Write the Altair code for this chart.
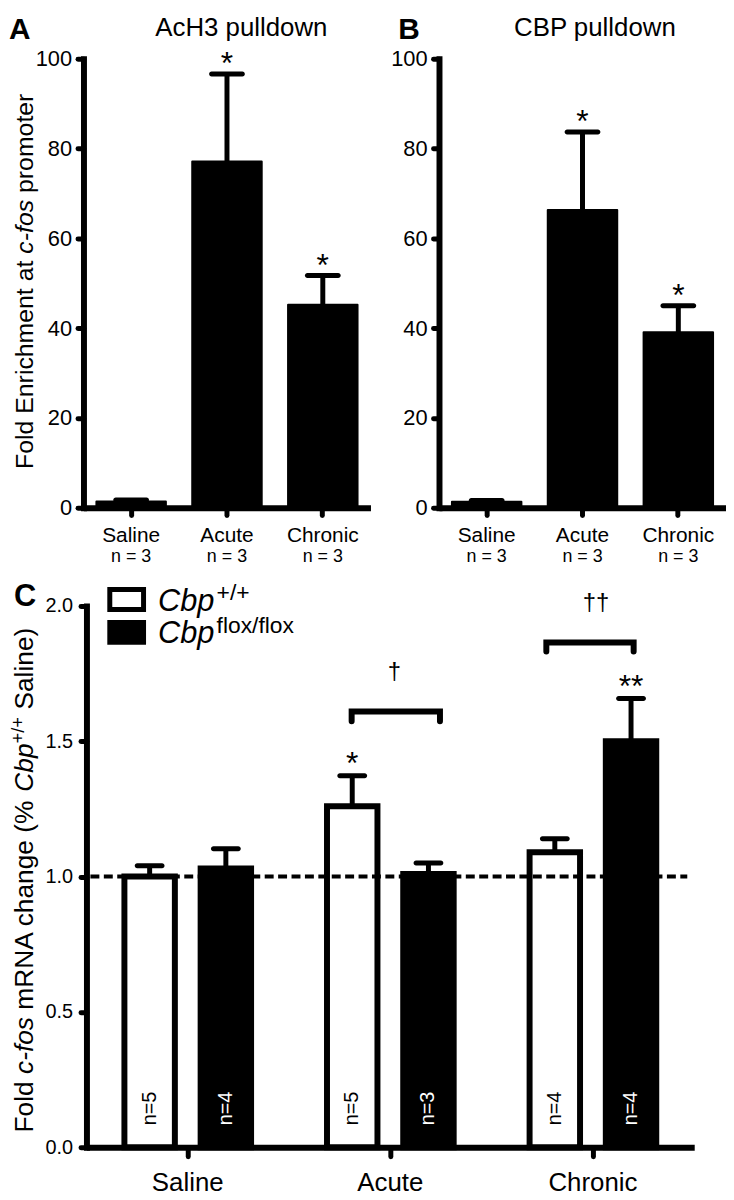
import altair as alt
import pandas as pd

FONT = "Liberation Sans"

# ---------------- data ----------------
groups = ["Saline", "Acute", "Chronic"]

# Panel A - AcH3 pulldown (fold enrichment at c-fos promoter)
a_mean = [1.4, 77.1, 45.2]
a_sem = [0.3, 19.5, 6.5]
a_n = [3, 3, 3]
a_sig = ["", "*", "*"]

# Panel B - CBP pulldown
b_mean = [1.3, 66.3, 39.1]
b_sem = [0.3, 17.4, 5.9]
b_n = [3, 3, 3]
b_sig = ["", "*", "*"]

# Panel C - c-fos mRNA
genotypes = ["Cbp+/+", "Cbpflox/flox"]
wt_mean = [1.00, 1.26, 1.09]
wt_sem = [0.04, 0.113, 0.05]
wt_n = [5, 5, 4]
wt_sig = ["", "*", ""]
flox_mean = [1.03, 1.01, 1.50]
flox_sem = [0.073, 0.04, 0.158]
flox_n = [4, 3, 4]
flox_sig = ["", "", "**"]

# significance brackets (x in group units, 0..3 across the axis)
bracket_from = [1.309, 2.270]
bracket_to = [1.745, 2.701]
bracket_y = [1.610, 1.865]
bracket_leg = [0.036, 0.033]
bracket_mark = ["\u2020", "\u2020\u2020"]
bracket_mark_x = [1.520, 2.515]

# ---------------- helpers ----------------
ARIAL = {' ': 278, '(': 333, ')': 333, '%': 889, '+': 584, '/': 278, '-': 333,
         'F': 611, 'o': 556, 'l': 222, 'd': 556, 'c': 500, 'f': 278, 's': 500,
         'm': 833, 'R': 722, 'N': 722, 'A': 667, 'h': 556, 'a': 556, 'n': 556,
         'g': 556, 'e': 556, 'C': 722, 'b': 556, 'p': 556, 'S': 667, 'i': 222,
         'E': 667, 'r': 333, 't': 278, 'x': 500}


def tw(s, size):
    return sum(ARIAL.get(ch, 556) for ch in s) / 1000.0 * size


ONE = pd.DataFrame({"k": [0]})


def txt(s, x, y, size, italic=False, bold=False, angle=0, align="left",
        baseline="alphabetic", color="black"):
    kw = dict(text=s, fontSize=size, align=align, baseline=baseline, font=FONT, color=color)
    if italic:
        kw["fontStyle"] = "italic"
    if bold:
        kw["fontWeight"] = "bold"
    if angle:
        kw["angle"] = angle
    return alt.Chart(ONE).mark_text(**kw).encode(x=alt.value(x), y=alt.value(y))


def spacer(x, y, y2):
    # invisible element that fixes the panel's layout bounds
    return alt.Chart(ONE).mark_rect(opacity=0).encode(
        x=alt.value(x), x2=alt.value(x + 1), y=alt.value(y), y2=alt.value(y2))


def vtitle(segs, x, yc):
    total = sum(tw(t, s) for t, s, _, _ in segs)
    y = yc + total / 2.0
    out = []
    for t, s, it, r in segs:
        lead = len(t) - len(t.lstrip(" "))
        start = y - tw(" " * lead, s)
        out.append(txt(t.strip(), x - r, start, s, italic=it, angle=270))
        y -= tw(t, s)
    return out


# ---------------- panels A and B ----------------
W_AB, H_AB = 289, 452


def pulldown(mean, sem, n, sig, letter, title, letter_x, title_x, extra):
    df = pd.DataFrame({
        "group": groups,
        "mean": mean,
        "top": [m + s for m, s in zip(mean, sem)],
        "nl": [f"n = {k}" for k in n],
        "sig": sig,
    })
    x_axis = alt.Axis(title=None, labelAngle=0, labelFontSize=21, labelPadding=9.4,
                      tickSize=7.5, tickWidth=5, tickCap="round", domainWidth=6,
                      domainCap="butt")
    X = alt.X("group:N", sort=groups,
              scale=alt.Scale(paddingInner=0.275, paddingOuter=0.135), axis=x_axis)
    y_axis = alt.Axis(title=None, values=[0, 20, 40, 60, 80, 100], labelFontSize=22,
                      tickSize=6, tickWidth=5, tickCap="round", labelPadding=6,
                      domainWidth=6, domainCap="square")
    Y = alt.Y("mean:Q", scale=alt.Scale(domain=[0, 100], nice=False), axis=y_axis)
    base = alt.Chart(df)
    bars = base.mark_bar(color="black", stroke="black", strokeWidth=2,
                         strokeJoin="round").encode(x=X, y=Y)
    err = base.mark_rule(color="black", strokeWidth=5).encode(
        x=X, y=alt.Y("mean:Q", title=None), y2="top:Q")
    cap = base.mark_tick(color="black", opacity=1, orient="horizontal", size=36,
                         thickness=5, cornerRadius=2.5).encode(
        x=X, y=alt.Y("top:Q", title=None))
    stars = base.mark_text(fontSize=32, font=FONT, color="black", baseline="alphabetic",
                           dy=0).encode(x=X, y=alt.Y("top:Q", title=None), text="sig:N")
    nlab = base.mark_text(fontSize=18, font=FONT, color="black",
                          baseline="alphabetic").encode(
        x=X, y=alt.value(H_AB + 54.5), text="nl:N")
    layers = [bars, err, cap, stars, nlab,
              txt(letter, letter_x, -19.5, 30, bold=True),
              txt(title, title_x, -23, 26, align="center")] + extra
    return alt.layer(*layers).properties(width=W_AB, height=H_AB)


a_extra = vtitle([("Fold Enrichment at ", 25, False, 0),
                  ("c-fos", 25, True, 0),
                  (" promoter", 25, False, 0)], -51, 224)
a_extra.append(spacer(-75, -47, H_AB + 60))

panelA = pulldown(a_mean, a_sem, a_n, a_sig, "A", "AcH3 pulldown", -75, 159, a_extra)
panelB = pulldown(b_mean, b_sem, b_n, b_sig, "B", "CBP pulldown", -41, 157, [])

# ---------------- panel C ----------------
W_C, H_C = 616, 545
rows = []
for i, g in enumerate(groups):
    rows.append(dict(group=g, geno=genotypes[0], mean=wt_mean[i],
                     top=wt_mean[i] + wt_sem[i], nl=f"n={wt_n[i]}", sig=wt_sig[i]))
    rows.append(dict(group=g, geno=genotypes[1], mean=flox_mean[i],
                     top=flox_mean[i] + flox_sem[i], nl=f"n={flox_n[i]}", sig=flox_sig[i]))
dfC = pd.DataFrame(rows)

xC_axis = alt.Axis(title=None, labelAngle=0, labelFontSize=26, labelPadding=13.5,
                   tickSize=9, tickWidth=5, tickCap="round", domainWidth=6, domainCap="butt")
XC = alt.X("group:N", sort=groups,
           scale=alt.Scale(range=[3, W_C - 1], paddingInner=0, paddingOuter=0), axis=xC_axis)
XO = alt.XOffset("geno:N", sort=genotypes,
                 scale=alt.Scale(paddingInner=0.338, paddingOuter=0.498))
yC_axis = alt.Axis(title=None, values=[0, 0.5, 1.0, 1.5, 2.0], format=".1f",
                   labelFontSize=20, tickSize=6, tickWidth=5, tickCap="round",
                   labelPadding=8, domainWidth=6, domainCap="square", offset=-3)
YC = alt.Y("mean:Q", scale=alt.Scale(domain=[0, 2], nice=False), axis=yC_axis)

is_wt = alt.datum.geno == genotypes[0]
baseC = alt.Chart(dfC)
barsC = baseC.mark_bar(stroke="black", strokeWidth=6, strokeJoin="miter").encode(
    x=XC, xOffset=XO, y=YC,
    fill=alt.condition(is_wt, alt.value("white"), alt.value("black")))
dashC = alt.Chart(ONE).mark_rule(color="black", strokeWidth=4, strokeDash=[9, 4.5]).encode(
    y=alt.datum(1.0), x=alt.value(7), x2=alt.value(608))
errC = baseC.mark_rule(color="black", strokeWidth=5).encode(
    x=XC, xOffset=XO, y=alt.Y("mean:Q", title=None), y2="top:Q")
capC = baseC.mark_tick(color="black", opacity=1, orient="horizontal", size=30,
                       thickness=5, cornerRadius=2.5).encode(
    x=XC, xOffset=XO, y=alt.Y("top:Q", title=None))
nC = baseC.mark_text(angle=270, fontSize=20, font=FONT, align="center",
                     baseline="middle").encode(
    x=XC, xOffset=XO, y=alt.value(H_C - 39), text="nl:N",
    fill=alt.condition(is_wt, alt.value("black"), alt.value("white")))
starC = baseC.mark_text(fontSize=32, font=FONT, color="black", baseline="alphabetic",
                        dy=-1.5).encode(
    x=XC, xOffset=XO, y=alt.Y("top:Q", title=None), text="sig:N")

band_layers = alt.layer(barsC, dashC, errC, capC, nC, starC)

brows = []
for i in range(len(bracket_from)):
    pts = [(bracket_from[i], bracket_y[i] - bracket_leg[i]),
           (bracket_from[i], bracket_y[i]),
           (bracket_to[i], bracket_y[i]),
           (bracket_to[i], bracket_y[i] - bracket_leg[i])]
    for o, (bx, by) in enumerate(pts):
        brows.append(dict(b=i, o=o, bx=bx, by=by))
dfB = pd.DataFrame(brows)
qscale = alt.Scale(domain=[0, 3], range=[3, W_C - 1], nice=False, zero=False)
bracketC = alt.Chart(dfB).mark_line(color="black", strokeWidth=6, strokeCap="round",
                                    strokeJoin="miter").encode(
    x=alt.X("bx:Q", scale=qscale, axis=None),
    y=alt.Y("by:Q", title=None), detail="b:N", order="o:Q")
dfD = pd.DataFrame({"dx": bracket_mark_x, "dyv": bracket_y, "t": bracket_mark})
daggerC = alt.Chart(dfD).mark_text(fontSize=24, font=FONT, color="black",
                                   baseline="alphabetic", dy=-33).encode(
    x=alt.X("dx:Q", scale=qscale, axis=None),
    y=alt.Y("dyv:Q", title=None), text="t:N")

quant_layers = alt.layer(bracketC, daggerC)

legend = [
    alt.Chart(ONE).mark_rect(fill="white", stroke="black", strokeWidth=5).encode(
        x=alt.value(26.5), x2=alt.value(60.5), y=alt.value(-16.5), y2=alt.value(3.5)),
    alt.Chart(ONE).mark_rect(fill="black").encode(
        x=alt.value(24), x2=alt.value(63), y=alt.value(14), y2=alt.value(39)),
    txt("Cbp", 75, 5, 31, italic=True),
    txt("+/+", 134, -6, 23),
    txt("Cbp", 75, 37, 31, italic=True),
    txt("flox/flox", 134, 27, 23),
]
c_title = vtitle([("Fold ", 26.5, False, 0),
                  ("c-fos", 26.5, True, 0),
                  (" mRNA change (% ", 26.5, False, 0),
                  ("Cbp", 26.5, True, 0),
                  ("+/+", 18.5, False, 9),
                  (" Saline)", 26.5, False, 0)], -51, 276)

panelC = alt.layer(
    band_layers, quant_layers,
    *legend, *c_title,
    txt("C", -70, 0, 31, bold=True),
    spacer(-75, -30, 0),
).resolve_scale(x="independent").properties(width=W_C, height=H_C)

top_row = alt.hconcat(panelA, panelB, spacing=69, bounds="flush")
chart = alt.vconcat(
    top_row, panelC, spacing=9,
).properties(
    padding={"left": 0, "top": 0, "right": 0, "bottom": 0}
).configure(font=FONT).configure_axis(
    grid=False, labelFont=FONT, labelColor="black", domainColor="black", tickColor="black"
).configure_view(stroke=None)

chart.save("out.html", embed_options={"renderer": "svg", "actions": False})
